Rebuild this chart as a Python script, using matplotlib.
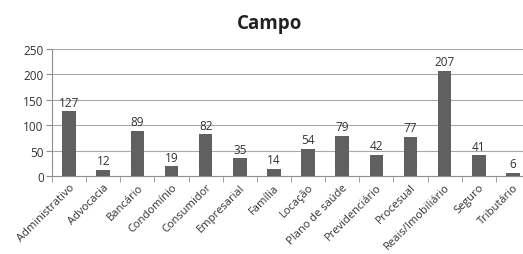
import matplotlib
matplotlib.use("Agg")
import matplotlib.pyplot as plt
import numpy as np

categories = ["Administrativo", "Advocacia", "Bancário", "Condomínio", "Consumidor",
              "Empresarial", "Família", "Locação", "Plano de saúde", "Previdenciário",
              "Procesual", "Reais/Imobiliário", "Seguro", "Tributário"]
values = [127, 12, 89, 19, 82, 35, 14, 54, 79, 42, 77, 207, 41, 6]
yticks = [0, 50, 100, 150, 200, 250]

plt.rcParams['font.family'] = ['Open Sans', 'DejaVu Sans']
fig = plt.figure(figsize=(5.23, 2.55), dpi=100)
W, H = 523, 255
left, right, top, bottom = 52, 530, 50, 177
ax = fig.add_axes([left / W, 1 - bottom / H, (right - left) / W, (bottom - top) / H])

x = np.arange(len(categories))
bars = ax.bar(x, values, width=0.4, color="#606060", zorder=3)
for xi, v in zip(x, values):
    ax.text(xi, v + 5, str(v), ha="center", va="bottom", fontsize=8.5, color="#333333")

ax.set_xlim(-0.5, len(categories) - 0.5)
ax.set_ylim(0, 250)
ax.set_yticks(yticks)
ax.set_yticklabels([str(t) for t in yticks], fontsize=8.5, color="#333333")
ax.yaxis.grid(True, color="#a8a8a8", linewidth=0.8, zorder=0)
ax.set_xticks(x)
ax.set_xticklabels(categories, rotation=45, ha="right", rotation_mode="anchor",
                   fontsize=8, color="#333333")
ax.tick_params(axis="x", length=0, pad=4)
ax.set_xticks(np.arange(len(categories) + 1) - 0.5, minor=True)
ax.tick_params(axis="x", which="minor", length=4, color="#909090")
ax.tick_params(axis="y", length=4, color="#909090", pad=2)
for s in ["top", "right"]:
    ax.spines[s].set_visible(False)
ax.spines["left"].set_color("#909090")
ax.spines["bottom"].set_color("#909090")

fig.text(270 / W, 1 - 24 / H, "Campo", ha="center", va="center", fontsize=13.5,
         fontweight="bold", color="#222222")

fig.savefig("out.png", dpi=100)
